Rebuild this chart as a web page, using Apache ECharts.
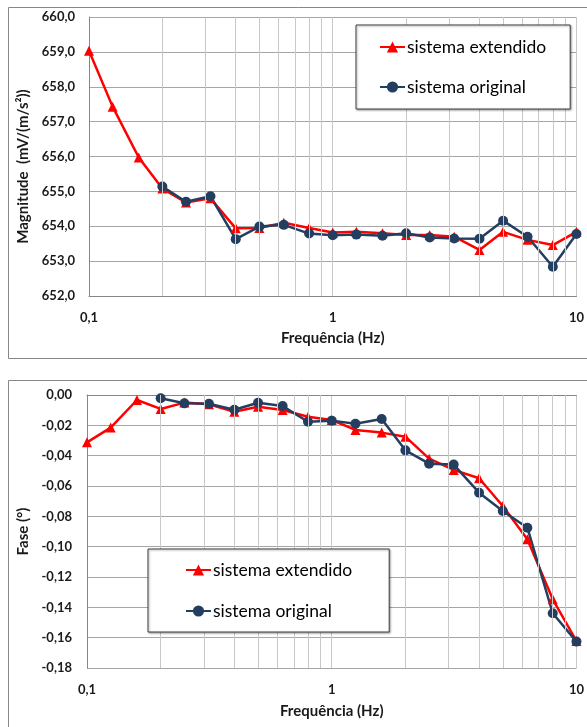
<!DOCTYPE html>
<html>
<head>
<meta charset="utf-8">
<script src="https://cdn.jsdelivr.net/npm/echarts@6/dist/echarts.min.js"></script>
<style>
  html, body { margin: 0; padding: 0; background: #fff; }
  #chart { width: 587px; height: 727px; }
</style>
</head>
<body>
<div id="chart"></div>
<script>
// One-third-octave frequencies (Hz)
const freqExt = [0.1, 0.125, 0.16, 0.2, 0.25, 0.315, 0.4, 0.5, 0.63, 0.8, 1, 1.25, 1.6, 2, 2.5, 3.15, 4, 5, 6.3, 8, 10];
const freqOrig = [0.2, 0.25, 0.315, 0.4, 0.5, 0.63, 0.8, 1, 1.25, 1.6, 2, 2.5, 3.15, 4, 5, 6.3, 8, 10];

// Magnitude, mV/(m/s²)
const magExt = [659.03, 657.43, 655.97, 655.08, 654.68, 654.80, 653.94, 653.95, 654.10, 653.95, 653.82, 653.84, 653.80, 653.75, 653.75, 653.70, 653.32, 653.84, 653.61, 653.46, 653.84];
const magOrig = [655.14, 654.70, 654.86, 653.63, 653.99, 654.04, 653.79, 653.74, 653.76, 653.73, 653.80, 653.68, 653.65, 653.64, 654.16, 653.70, 652.84, 653.78];

// Phase, degrees
const phaseExt = [-0.0312, -0.0215, -0.0033, -0.0092, -0.0050, -0.0061, -0.0110, -0.0077, -0.0099, -0.0143, -0.0165, -0.0230, -0.0248, -0.0275, -0.0420, -0.0494, -0.0549, -0.0732, -0.0951, -0.1347, -0.1622];
const phaseOrig = [-0.0022, -0.0055, -0.0058, -0.0097, -0.0051, -0.0073, -0.0176, -0.0169, -0.0189, -0.0158, -0.0365, -0.0453, -0.0459, -0.0644, -0.0765, -0.0875, -0.1439, -0.1626];

// Minor log grid lines inside each decade
const minorGrid = [0.2, 0.3, 0.4, 0.5, 0.6, 0.7, 0.8, 0.9, 2, 3, 4, 5, 6, 7, 8, 9];

const nameExt = 'sistema extendido';
const nameOrig = 'sistema original';
const RED = '#ff0000';
const NAVY = '#243e60';
const FONT = 'Lato, "Open Sans", sans-serif';
const TEXT = '#1a1a1a';

const pairs = (xs, ys) => xs.map((x, i) => [x, ys[i]]);
const comma = (s) => String(s).replace('.', ',');

function xAxisFor(gridIndex, nameGap, margin) {
  return {
    type: 'log', logBase: 10, gridIndex, min: 0.1, max: 10,
    name: 'Frequência (Hz)', nameLocation: 'middle', nameGap,
    nameTextStyle: { fontFamily: FONT, fontWeight: 'bold', fontSize: 15, color: TEXT },
    axisLine: { show: true, lineStyle: { color: '#868686', width: 1 } },
    axisTick: { show: false },
    axisLabel: {
      margin, fontFamily: FONT, fontWeight: 'bold', fontSize: 13, color: TEXT,
      formatter: (v) => comma(+Number(v).toPrecision(3))
    },
    splitLine: { show: true, lineStyle: { color: '#c8c8c8', width: 1 } }
  };
}

function yAxisFor(gridIndex, opts) {
  return Object.assign({
    type: 'value', gridIndex,
    nameLocation: 'middle', nameRotate: 90,
    axisLine: { show: true, lineStyle: { color: '#868686', width: 1 } },
    axisTick: { show: false },
    splitLine: { show: true, lineStyle: { color: '#a6a6a6', width: 1 } }
  }, opts);
}

function minorLines(xi, yi) {
  return {
    type: 'line', xAxisIndex: xi, yAxisIndex: yi, data: [], z: 1, silent: true,
    markLine: {
      silent: true, symbol: ['none', 'none'], animation: false,
      label: { show: false },
      lineStyle: { color: '#c8c8c8', width: 1, type: 'solid' },
      emphasis: { disabled: true },
      data: minorGrid.map((f) => ({ xAxis: f }))
    }
  };
}

function lineSeries(name, xi, yi, data, color, symbol, size) {
  return {
    name, type: 'line', xAxisIndex: xi, yAxisIndex: yi, data, z: 3,
    symbol, symbolSize: size, showSymbol: true,
    lineStyle: { color, width: 2.5 },
    itemStyle: { color },
    emphasis: { disabled: true },
    animation: false
  };
}

function legendAt(left, top, padding, itemGap) {
  return {
    data: [nameExt, nameOrig], orient: 'vertical', left, top, padding, itemGap,
    itemWidth: 25, itemHeight: 14, selectedMode: false, z: 20,
    backgroundColor: '#fff', borderColor: '#404040', borderWidth: 1,
    shadowColor: 'rgba(0,0,0,0.35)', shadowBlur: 2, shadowOffsetX: 1, shadowOffsetY: 1,
    textStyle: { fontFamily: FONT, fontSize: 17.5, color: '#000', padding: [0, 0, 0, -3] }
  };
}

const chart = echarts.init(document.getElementById('chart'), null, { renderer: 'canvas' });
chart.setOption({
  backgroundColor: '#fff',
  animation: false,
  graphic: [
    { type: 'rect', shape: { x: 8.5, y: 7.5, width: 600, height: 351 }, style: { fill: 'none', stroke: '#878787', lineWidth: 1 }, z: -1 },
    { type: 'rect', shape: { x: 8.5, y: 380.5, width: 600, height: 400 }, style: { fill: 'none', stroke: '#878787', lineWidth: 1 }, z: -1 }
  ],
  grid: [
    { left: 89, right: 9, top: 17, height: 279, containLabel: false },
    { left: 87, right: 9, top: 395, height: 273, containLabel: false }
  ],
  xAxis: [xAxisFor(0, 35, 15), xAxisFor(1, 36, 15)],
  yAxis: [
    yAxisFor(0, {
      min: 652, max: 660, interval: 1,
      name: 'Magnitude  (mV/(m/s²))', nameGap: 55,
      nameTextStyle: { fontFamily: FONT, fontWeight: 'bold', fontSize: 15, color: TEXT, padding: [0, 20, 0, 0] },
      axisLabel: { margin: 14, fontFamily: FONT, fontWeight: 'bold', fontSize: 13, color: TEXT,
        formatter: (v) => comma(v.toFixed(1)) }
    }),
    yAxisFor(1, {
      min: -0.18, max: 0, interval: 0.02,
      name: 'Fase (°)', nameGap: 53,
      nameTextStyle: { fontFamily: FONT, fontWeight: 'bold', fontSize: 15, color: TEXT },
      axisLabel: { margin: 15, fontFamily: FONT, fontWeight: 'bold', fontSize: 13, color: TEXT,
        formatter: (v) => comma(v.toFixed(2)) }
    })
  ],
  legend: [
    legendAt(356, 25, [13, 24, 13, 23], 22),
    legendAt(148, 549, [12, 37, 12, 37], 23)
  ],
  series: [
    minorLines(0, 0),
    minorLines(1, 1),
    lineSeries(nameExt, 0, 0, pairs(freqExt, magExt), RED, 'triangle', 10),
    lineSeries(nameOrig, 0, 0, pairs(freqOrig, magOrig), NAVY, 'circle', 10),
    lineSeries(nameExt, 1, 1, pairs(freqExt, phaseExt), RED, 'triangle', 10),
    lineSeries(nameOrig, 1, 1, pairs(freqOrig, phaseOrig), NAVY, 'circle', 10)
  ]
});
</script>
</body>
</html>
